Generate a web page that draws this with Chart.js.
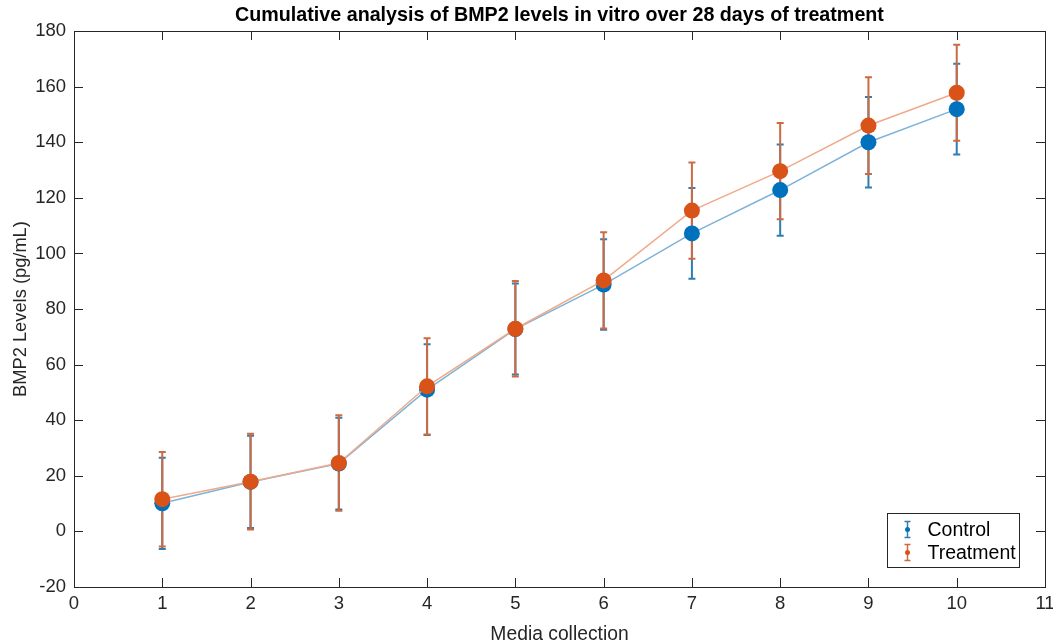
<!DOCTYPE html>
<html>
<head>
<meta charset="utf-8">
<script src="https://cdn.jsdelivr.net/npm/chart.js@4.4.1/dist/chart.umd.min.js"></script>
<style>
  html, body { margin: 0; padding: 0; background: #fff; }
  #wrap { width: 1053px; height: 644px; }
</style>
</head>
<body>
<div id="wrap"><canvas id="chart" width="1053" height="644"></canvas></div>
<script>
// data
const mediaCollection = [1, 2, 3, 4, 5, 6, 7, 8, 9, 10];
const controlMean = [10.1, 17.8, 24.4, 51.0, 72.8, 88.8, 107.2, 122.8, 140.0, 151.9];
const controlErr = [16.4, 16.6, 16.5, 16.3, 16.4, 16.3, 16.3, 16.4, 16.3, 16.3];
const treatmentMean = [11.6, 17.9, 24.6, 52.2, 72.9, 90.3, 115.4, 129.6, 146.0, 157.8];
const treatmentErr = [17.0, 17.2, 17.2, 17.3, 17.2, 17.3, 17.3, 17.3, 17.4, 17.3];

const xTicks = [0, 1, 2, 3, 4, 5, 6, 7, 8, 9, 10, 11];
const yTicks = [-20, 0, 20, 40, 60, 80, 100, 120, 140, 160, 180];

const axisColor = '#262626';
const fontFamily = '"Liberation Sans", Arial, Helvetica, sans-serif';

const seriesStyle = [
  { name: 'Control', mean: controlMean, err: controlErr, marker: '#0072BD', line: '#7db3d8', bar: '#2f7db2' },
  { name: 'Treatment', mean: treatmentMean, err: treatmentErr, marker: '#D95319', line: '#eeab8b', bar: '#cc6a42' },
];

const toPoints = (ys) => mediaCollection.map((x, i) => ({ x: x, y: ys[i] }));

// MATLAB style box + inward ticks
const boxPlugin = {
  id: 'box',
  afterDatasetsDraw(chart) {
    const { ctx, chartArea: a, scales } = chart;
    const len = 9;
    ctx.save();
    ctx.strokeStyle = axisColor;
    ctx.lineWidth = 1;
    ctx.beginPath();
    xTicks.forEach(v => {
      const px = Math.round(scales.x.getPixelForValue(v)) + 0.5;
      ctx.moveTo(px, a.bottom); ctx.lineTo(px, a.bottom - len);
      ctx.moveTo(px, a.top); ctx.lineTo(px, a.top + len);
    });
    yTicks.forEach(v => {
      const py = Math.round(scales.y.getPixelForValue(v)) + 0.5;
      ctx.moveTo(a.left, py); ctx.lineTo(a.left + len, py);
      ctx.moveTo(a.right, py); ctx.lineTo(a.right - len, py);
    });
    ctx.stroke();
    ctx.strokeRect(Math.round(a.left) + 0.5, Math.round(a.top) + 0.5,
      Math.round(a.right - a.left), Math.round(a.bottom - a.top));
    ctx.restore();
  }
};

// vertical error bars with caps, drawn under the lines/markers
const errorBarPlugin = {
  id: 'errorBars',
  beforeDatasetsDraw(chart) {
    const { ctx, scales } = chart;
    const cap = 3.5;
    ctx.save();
    seriesStyle.forEach(s => {
      ctx.strokeStyle = s.bar;
      ctx.lineWidth = 2;
      ctx.beginPath();
      mediaCollection.forEach((x, i) => {
        const px = scales.x.getPixelForValue(x);
        const top = scales.y.getPixelForValue(s.mean[i] + s.err[i]);
        const bot = scales.y.getPixelForValue(s.mean[i] - s.err[i]);
        ctx.moveTo(px, top); ctx.lineTo(px, bot);
        ctx.moveTo(px - cap, top); ctx.lineTo(px + cap, top);
        ctx.moveTo(px - cap, bot); ctx.lineTo(px + cap, bot);
      });
      ctx.stroke();
    });
    ctx.restore();
  }
};

// legend box in the lower right corner
const legendPlugin = {
  id: 'matlabLegend',
  afterDraw(chart) {
    const { ctx, chartArea: a } = chart;
    const w = 132, h = 54;
    const x0 = Math.round(a.right - 26 - w) + 0.5;
    const y0 = Math.round(a.bottom - 20 - h) + 0.5;
    ctx.save();
    ctx.fillStyle = '#fff';
    ctx.fillRect(x0, y0, w, h);
    ctx.strokeStyle = axisColor;
    ctx.lineWidth = 1;
    ctx.strokeRect(x0, y0, w, h);
    ctx.font = '19.5px ' + fontFamily;
    ctx.textBaseline = 'middle';
    seriesStyle.forEach((s, i) => {
      const cy = y0 + 16 + i * 23;
      const cx = x0 + 20;
      ctx.strokeStyle = s.bar;
      ctx.lineWidth = 1.5;
      ctx.beginPath();
      ctx.moveTo(cx, cy - 8); ctx.lineTo(cx, cy + 8);
      ctx.moveTo(cx - 3, cy - 8); ctx.lineTo(cx + 3, cy - 8);
      ctx.moveTo(cx - 3, cy + 8); ctx.lineTo(cx + 3, cy + 8);
      ctx.stroke();
      ctx.fillStyle = s.marker;
      ctx.beginPath();
      ctx.arc(cx, cy, 2.5, 0, Math.PI * 2);
      ctx.fill();
      ctx.fillStyle = '#000';
      ctx.fillText(s.name, x0 + 40, cy + 1);
    });
    ctx.restore();
  }
};

new Chart(document.getElementById('chart'), {
  type: 'line',
  data: {
    datasets: seriesStyle.map((s, i) => ({
      label: s.name,
      data: toPoints(s.mean),
      borderColor: s.line,
      borderWidth: 1.5,
      pointRadius: 8,
      pointHoverRadius: 8,
      pointBackgroundColor: s.marker,
      pointBorderColor: s.marker,
      pointBorderWidth: 0,
      tension: 0,
      order: seriesStyle.length - i,
    }))
  },
  options: {
    responsive: false,
    animation: false,
    events: [],
    layout: { padding: { left: 0, right: 7, top: 0, bottom: 0 } },
    plugins: {
      legend: { display: false },
      tooltip: { enabled: false },
      title: {
        display: true,
        fullSize: false,
        text: 'Cumulative analysis of BMP2 levels in vitro over 28 days of treatment',
        color: '#000',
        font: { family: fontFamily, size: 19.7, weight: 'bold', lineHeight: 1.2 },
        padding: { top: 4, bottom: 3.4 },
      },
    },
    scales: {
      x: {
        type: 'linear',
        min: 0,
        max: 11,
        afterBuildTicks(scale) { scale.ticks = xTicks.map(v => ({ value: v })); },
        afterFit(scale) { scale.height = 57; scale.paddingLeft = 0; scale.paddingRight = 0; },
        grid: { display: false, drawTicks: false },
        border: { display: false },
        ticks: { color: axisColor, padding: 6, maxRotation: 0, font: { family: fontFamily, size: 18.5 } },
        title: {
          display: true,
          text: 'Media collection',
          color: axisColor,
          font: { family: fontFamily, size: 19.3, lineHeight: 1.0 },
          padding: { top: 0, bottom: 0 },
        },
      },
      y: {
        type: 'linear',
        min: -20,
        max: 180,
        afterBuildTicks(scale) { scale.ticks = yTicks.map(v => ({ value: v })); },
        afterFit(scale) { scale.width = 74; scale.paddingTop = 0; scale.paddingBottom = 0; },
        grid: { display: false, drawTicks: false },
        border: { display: false },
        ticks: { color: axisColor, padding: 8, font: { family: fontFamily, size: 18.5 } },
        title: {
          display: true,
          text: 'BMP2 Levels (pg/mL)',
          color: axisColor,
          font: { family: fontFamily, size: 18.3 },
          padding: { top: 10, bottom: 0 },
        },
      },
    },
  },
  plugins: [errorBarPlugin, boxPlugin, legendPlugin],
});
</script>
</body>
</html>
